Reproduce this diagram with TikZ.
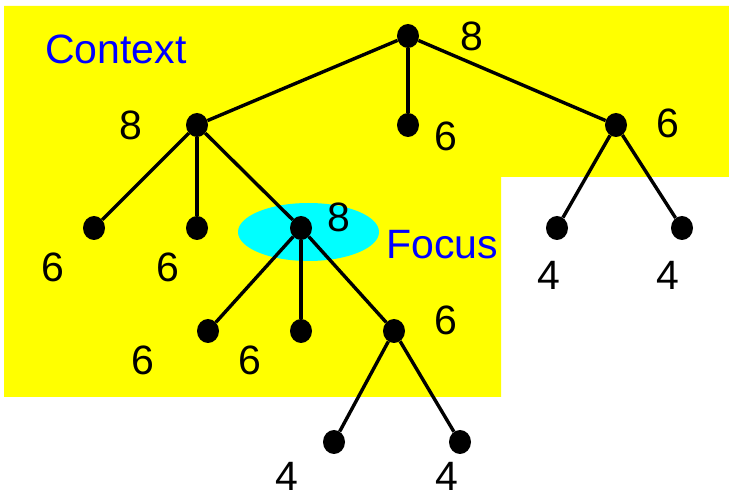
\documentclass[tikz,border=0pt]{standalone}
\usepackage{fontspec}
\setmainfont{Liberation Sans}
\usetikzlibrary{shapes.geometric}
\definecolor{ctxyellow}{RGB}{255,255,0}
\definecolor{focuscyan}{RGB}{0,255,255}
\definecolor{lblblue}{RGB}{0,0,255}
\begin{document}
\begin{tikzpicture}[x=1pt,y=-1pt,
  dot/.style={ellipse,fill=black,inner sep=0pt,minimum width=22pt,minimum height=24pt},
  edge/.style={line width=3.4pt,black},
  num/.style={inner sep=0pt,font=\fontsize{41}{41}\selectfont},
  tag/.style={inner sep=0pt,text=lblblue,font=\fontsize{41}{41}\selectfont}]
\useasboundingbox (0,0) rectangle (729,494);
\fill[ctxyellow] (4,6) -- (729,6) -- (729,177) -- (501,177) -- (501,397) -- (4,397) -- cycle;
\fill[focuscyan] (308.5,232) ellipse [x radius=70.5pt, y radius=29pt];
% nodes
\node[dot] (r) at (408,36) {};
\node[dot] (a) at (197,125) {};
\node[dot] (b) at (408,125) {};
\node[dot] (c) at (616,125) {};
\node[dot] (a1) at (94,228) {};
\node[dot] (a2) at (197,228) {};
\node[dot] (f) at (301,228) {};
\node[dot] (c1) at (557,228) {};
\node[dot] (c2) at (682,228) {};
\node[dot] (f1) at (208,331) {};
\node[dot] (f2) at (301,331) {};
\node[dot] (f3) at (394,331) {};
\node[dot] (g1) at (334,442) {};
\node[dot] (g2) at (460,442) {};
% edges
\draw[edge] (r) -- (a);
\draw[edge] (r) -- (b);
\draw[edge] (r) -- (c);
\draw[edge] (a) -- (a1);
\draw[edge] (a) -- (a2);
\draw[edge] (a) -- (f);
\draw[edge] (c) -- (c1);
\draw[edge] (c) -- (c2);
\draw[edge] (f) -- (f1);
\draw[edge] (f) -- (f2);
\draw[edge] (f) -- (f3);
\draw[edge] (f3) -- (g1);
\draw[edge] (f3) -- (g2);
% labels
\node[tag] (ctx) at (116,49) {Context};
\node[tag] (foc) at (442,245) {Focus};
\node[num] (lr) at (472,36) {8};
\node[num] (la) at (131,125) {8};
\node[num] (lb) at (446,136) {6};
\node[num] (lc) at (668,123) {6};
\node[num] (la1) at (53,267) {6};
\node[num] (la2) at (168,267) {6};
\node[num] (lf) at (339,217) {8};
\node[num] (lc1) at (549,275) {4};
\node[num] (lc2) at (668,275) {4};
\node[num] (lf1) at (143,360) {6};
\node[num] (lf2) at (250,360) {6};
\node[num] (lf3) at (446,320) {6};
\node[num] (lg1) at (287,476) {4};
\node[num] (lg2) at (447,476) {4};
\end{tikzpicture}
\end{document}
